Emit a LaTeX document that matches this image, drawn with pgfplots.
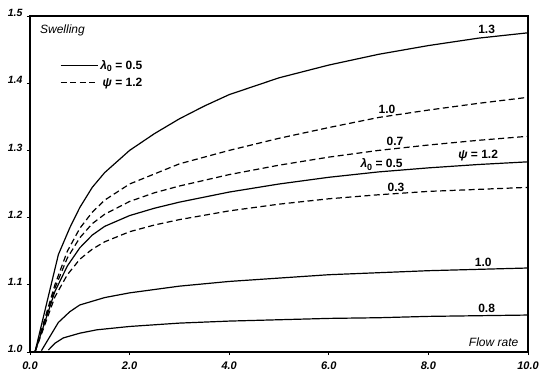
\documentclass[border=0pt]{standalone}
\usepackage{fontspec}
\setmainfont{Liberation Sans}
\usepackage{pgfplots}
\pgfplotsset{compat=1.18}
\begin{document}
\begin{tikzpicture}
\useasboundingbox (-30pt,-24pt) rectangle (520pt,352pt);
\begin{axis}[
  at={(0pt,0pt)}, anchor=south west,
  scale only axis, width=498pt, height=336pt,
  xmin=0, xmax=10, ymin=1.0, ymax=1.5,
  xtick={0,2,4,6,8,10}, ytick={1.0,1.1,1.2,1.3,1.4,1.5},
  tick pos=left, tick align=outside, major tick length=3pt,
  tick style={line width=0.8pt, black},
  axis line style={line width=1.5pt},
  /pgf/number format/assume math mode=true,
  /pgf/number format/.cd, fixed, fixed zerofill, precision=1, /pgfplots/.cd,
  xticklabel style={font=\fontsize{11}{13}\selectfont\bfseries\itshape, yshift=-3pt},
  yticklabel style={font=\fontsize{10.5}{12}\selectfont\bfseries\itshape, yshift=3pt, xshift=-1pt},
  legend style={draw=none, fill=none, at={(0.06,0.875)}, anchor=north west,
    font=\fontsize{12}{14}\selectfont\bfseries, inner sep=0pt, row sep=3pt},
  legend cell align=right,
  legend image code/.code={\draw[#1] (0pt,0pt) -- (37pt,0pt);},
]
\addlegendimage{black, solid, line width=1.2pt}
\addlegendentry{\textit{λ}\raisebox{-0.35ex}{\fontsize{9}{10}\selectfont 0} = 0.5}
\addlegendimage{black, dash pattern=on 6pt off 3.5pt, line width=1.2pt}
\addlegendentry{\textit{ψ} = 1.2}

% 1.3 solid
\addplot[black, solid, line width=1.2pt] coordinates {(0.1,1.0) (0.57,1.145) (0.8,1.185) (1.0,1.215) (1.25,1.245) (1.5,1.267) (2.0,1.300) (2.5,1.325) (3.0,1.347) (3.5,1.366) (4.0,1.383) (5.0,1.408) (6.0,1.427) (7.0,1.443) (8.0,1.456) (9.0,1.467) (10.0,1.475)};
% 1.0 dashed
\addplot[black, line width=1.2pt, dash pattern=on 6pt off 3.5pt] coordinates {(0.1,1.0) (0.5,1.100) (0.75,1.150) (1.0,1.184) (1.25,1.208) (1.5,1.226) (2.0,1.250) (2.5,1.265) (3.0,1.280) (4.0,1.300) (5.0,1.318) (6.0,1.334) (7.0,1.349) (8.0,1.360) (9.0,1.370) (10.0,1.379)};
% 0.7 dashed
\addplot[black, line width=1.2pt, dash pattern=on 6pt off 3.5pt] coordinates {(0.1,1.0) (0.5,1.095) (0.75,1.140) (1.0,1.170) (1.25,1.191) (1.5,1.205) (2.0,1.224) (2.5,1.237) (3.0,1.247) (4.0,1.264) (5.0,1.278) (6.0,1.290) (7.0,1.300) (8.0,1.308) (9.0,1.315) (10.0,1.321)};
% lambda0=0.5 psi=1.2 solid
\addplot[black, solid, line width=1.2pt] coordinates {(0.1,1.0) (0.5,1.090) (0.75,1.128) (1.0,1.155) (1.25,1.174) (1.5,1.187) (2.0,1.203) (2.5,1.214) (3.0,1.223) (4.0,1.238) (5.0,1.250) (6.0,1.260) (7.0,1.268) (8.0,1.274) (9.0,1.279) (10.0,1.283)};
% 0.3 dashed
\addplot[black, line width=1.2pt, dash pattern=on 6pt off 3.5pt] coordinates {(0.1,1.0) (0.5,1.082) (0.75,1.115) (1.0,1.138) (1.25,1.153) (1.5,1.164) (2.0,1.179) (2.5,1.189) (3.0,1.197) (4.0,1.210) (5.0,1.220) (6.0,1.228) (7.0,1.234) (8.0,1.239) (9.0,1.242) (10.0,1.245)};
% 1.0 solid
\addplot[black, solid, line width=1.2pt] coordinates {(0.23,1.002) (0.57,1.044) (0.8,1.060) (1.0,1.070) (1.5,1.081) (2.0,1.088) (3.0,1.098) (4.0,1.105) (5.0,1.110) (6.0,1.115) (7.0,1.118) (8.0,1.121) (9.0,1.123) (10.0,1.125)};
% 0.8 solid
\addplot[black, solid, line width=1.2pt] coordinates {(0.37,1.003) (0.5,1.013) (0.67,1.021) (1.0,1.028) (1.34,1.033) (2.0,1.038) (3.0,1.043) (4.0,1.046) (5.0,1.048) (6.0,1.050) (7.0,1.051) (8.0,1.053) (9.0,1.054) (10.0,1.055)};

\begin{scope}[every node/.style={font=\fontsize{12}{14}\selectfont\bfseries, inner sep=0pt}]
\node at (axis cs:9.17,1.480) {1.3};
\node at (axis cs:7.17,1.361) {1.0};
\node at (axis cs:7.33,1.313) {0.7};
\node at (axis cs:7.06,1.279) {\textit{λ}\raisebox{-0.35ex}{\fontsize{9}{10}\selectfont 0} = 0.5};
\node at (axis cs:9.0,1.292) {\textit{ψ} = 1.2};
\node at (axis cs:7.35,1.245) {0.3};
\node at (axis cs:9.10,1.134) {1.0};
\node at (axis cs:9.17,1.065) {0.8};
\end{scope}
\node[anchor=west, inner sep=0pt, font=\fontsize{12}{14}\selectfont\itshape] at (axis cs:0.2,1.479) {Swelling};
\node[anchor=east, inner sep=0pt, font=\fontsize{12}{14}\selectfont\itshape] at (axis cs:9.81,1.015) {Flow rate};
\end{axis}
\end{tikzpicture}
\end{document}
